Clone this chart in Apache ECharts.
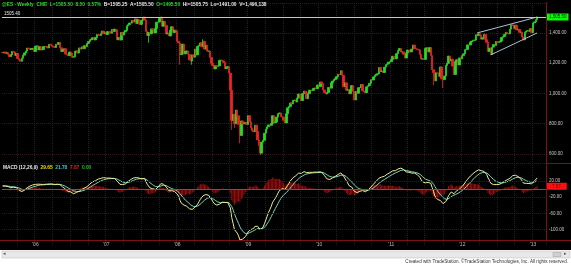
<!DOCTYPE html>
<html><head><meta charset="utf-8">
<script src="https://cdn.jsdelivr.net/npm/echarts@6/dist/echarts.min.js"></script>
<style>html,body{margin:0;padding:0;background:#fff}#c{width:571px;height:267px}</style>
</head><body><div id="c"></div>
<script>
// ---- data (weekly @ES) ----
const firstWeek = '2005-07-22';
const padWeeks = 6;
const closes = [
1269,1274,1265,1270,1258,1243,1255,1278,1273,1251,
1264,1231,1222,1213,1233,1253,1268,1280,1300,1296,
1290,1297,1298,1277,1313,1315,1288,1309,1288,1290,
1310,1310,1308,1301,1325,1320,1312,1311,1304,1325,
1324,1337,1302,1277,1289,1296,1260,1257,1250,1274,
1268,1240,1242,1279,1280,1267,1301,1294,1308,1296,
1316,1309,1330,1343,1355,1360,1368,1354,1370,1390,
1388,1383,1395,1413,1395,1401,1390,1409,1408,1398,
1423,1410,1425,1420,1355,1369,1353,1403,1386,1407,
1416,1447,1455,1466,1465,1482,1473,1493,1463,1488,
1458,1457,1483,1505,1485,1410,1383,1403,1394,1427,
1422,1400,1430,1471,1472,1502,1505,1444,1477,1450,
1394,1398,1380,1419,1441,1403,1419,1413,1345,1334,
1257,1262,1326,1262,1278,1281,1258,1221,1214,1255,
1240,1293,1255,1312,1319,1334,1309,1345,1293,1319,
1280,1280,1238,1199,1183,1162,1183,1179,1182,1219,
1220,1215,1205,1164,1174,1177,1135,1021,821,862,
799,890,852,795,722,818,798,801,809,795,
853,812,772,754,747,790,748,692,657,605,
678,690,737,765,779,792,789,801,853,806,
811,844,865,871,846,844,822,805,866,905,
914,937,931,953,956,943,969,996,972,953,
999,1015,1007,965,998,1022,1020,1020,1034,1036,
1032,1056,1045,1075,1066,1023,1005,997,1006,1040,
1035,1071,1082,1092,1099,1111,1126,1125,1150,1120,
1044,1070,1022,1023,998,1026,1052,1011,957,1013,
1001,1038,1039,1059,1017,1010,1005,1044,1051,1067,
1091,1089,1110,1120,1128,1129,1172,1146,1147,1138,
1174,1190,1195,1207,1210,1224,1246,1236,1229,1263,
1283,1297,1274,1275,1259,1234,1268,1287,1284,1275,
1293,1320,1296,1295,1290,1288,1257,1228,1228,1225,
1297,1302,1274,1303,1250,1157,1138,1083,1136,1133,
1113,1175,1096,1091,1115,1184,1199,1247,1216,1227,
1181,1125,1211,1223,1188,1235,1229,1250,1262,1289,
1291,1321,1320,1340,1346,1351,1353,1388,1382,1394,
1385,1359,1368,1391,1356,1338,1278,1300,1258,1306,
1324,1317,1344,1338,1340,1347,1370,1376,1391,1404,
1397,1394,1425,1454,1449,1430,1451,1420,1424,1404,
1406,1373,1354,1404,1412,1415,1410,1428,1401,1466,
1473,1488,1505.5
];
const firstOpen = 1270;
const wickLows = [[107,1335],[130,1190],[139,1190],[168,760],[170,772],[174,670],[189,592],[316,1055],[323,1036]];
const wickHighs = [[41,1340],[147,1358]];
const macdSeed = [1262, 1254, 8];          // ema12, ema26, signal before first bar
const upperTrend = [[348, 1400], [392, 1505]];
const lowerTrend = [[358, 1255], [392, 1400]];
const refLevel = 1505.40;
const refLabel = '1505.40';
const lastLabel = '1,505.50';
const histLabel = '7.87';
const priceLabelVals = [600, 800, 1000, 1200, 1400];
const macdLabelVals = [20, -20, -60, -100];
const headerParts = [
  ['@ES - Weekly  CME  L=1505.50  8.50  0.57%', 'g'],
  ['B=1505.25  A=1505.50', 'w'],
  ['O=1495.50', 'g'],
  ['Hi=1505.75  Lo=1491.00  V=1,496,138', 'w']
];
const macdParts = [['MACD (12,26,9)', 'w'], ['29.65', 'y'], ['21.78', 'c'], ['7.87', 'r'], ['0.00', 'g']];
const credit = 'Created with TradeStation. \u00A9TradeStation Technologies, Inc. All rights reserved.';

// ---- build ----
const cats = [];
const d0 = new Date(firstWeek + 'T00:00:00Z');
for (let i = 0; i < closes.length + padWeeks; i++) {
  const d = new Date(d0.getTime() + i * 7 * 86400000);
  cats.push(d.toISOString().slice(0, 10));
}
const yearStart = cats.map((c, i) => i > 0 && c.slice(0, 4) !== cats[i - 1].slice(0, 4));
const qStart = cats.map((c, i) => {
  if (i === 0) return false;
  const m = +c.slice(5, 7), pm = +cats[i - 1].slice(5, 7);
  return m !== pm && (m === 1 || m === 4 || m === 7 || m === 10);
});
const lowMap = Object.fromEntries(wickLows), highMap = Object.fromEntries(wickHighs);
const candles = closes.map((c, i) => {
  const o = i === 0 ? firstOpen : closes[i - 1];
  let lo = Math.min(o, c), hi = Math.max(o, c);
  if (lowMap[i] !== undefined) lo = Math.min(lo, lowMap[i]);
  if (highMap[i] !== undefined) hi = Math.max(hi, highMap[i]);
  return [o, c, lo, hi];
});
let e12 = macdSeed[0], e26 = macdSeed[1], sg = macdSeed[2];
const macd = [], signal = [], hist = [];
closes.forEach(c => {
  e12 += (2 / 13) * (c - e12);
  e26 += (2 / 27) * (c - e26);
  const m = e12 - e26;
  sg += (2 / 10) * (m - sg);
  macd.push(+m.toFixed(2)); signal.push(+sg.toFixed(2)); hist.push(+(m - sg).toFixed(2));
});

const FF = 'Liberation Sans, Arial, sans-serif';
const gridCol = '#3a1616';
const frameCol = '#7d1212';
const chart = echarts.init(document.getElementById('c'), null, {renderer: 'canvas', width: 571, height: 267});
const xBase = {
  type: 'category', data: cats, boundaryGap: true,
  axisLine: {show: false}, axisTick: {show: false},
  splitLine: {show: true, interval: (i) => qStart[i], lineStyle: {color: gridCol, type: 'dotted', width: 1}}
};
chart.setOption({
  backgroundColor: '#000',
  animation: false,
  title: [
    {left: 2, top: 2, padding: 0, text: headerParts.map(p => '{' + p[1] + '|' + p[0] + '}').join('  '),
     textStyle: {fontSize: 4.8, fontFamily: FF, rich: {g: {color: '#22dd22', fontSize: 4.8, fontFamily: FF}, w: {color: '#e8e8e8', fontSize: 4.8, fontFamily: FF}}}},
    {left: 3, top: 165, padding: 0, text: macdParts.map(p => '{' + p[1] + '|' + p[0] + '}').join('  '),
     textStyle: {fontSize: 4.8, fontFamily: FF, rich: {
       w: {color: '#e8e8e8', fontSize: 4.8, fontFamily: FF}, y: {color: '#e8e000', fontSize: 4.8, fontFamily: FF},
       c: {color: '#40c8c8', fontSize: 4.8, fontFamily: FF}, r: {color: '#e02020', fontSize: 4.8, fontFamily: FF},
       g: {color: '#20c020', fontSize: 4.8, fontFamily: FF}}}}
  ],
  grid: [
    {left: 2, right: 25, top: 3, height: 160},
    {left: 2, right: 25, top: 165, height: 80.5}
  ],
  xAxis: [
    Object.assign({gridIndex: 0, axisLabel: {show: false}}, xBase),
    Object.assign({gridIndex: 1, axisLabel: {show: true, interval: (i) => yearStart[i], margin: -3,
      formatter: (v) => "'" + v.slice(2, 4), color: '#b8b8b8', fontSize: 5, fontFamily: FF}}, xBase)
  ],
  yAxis: [
    {gridIndex: 0, type: 'value', position: 'right', min: 540, max: 1598, splitNumber: 5,
     axisLine: {show: false}, axisTick: {show: false},
     axisLabel: {color: '#c8c8c8', fontSize: 4.5, fontFamily: FF, margin: 3,
       formatter: (v) => priceLabelVals.includes(v) ? v.toLocaleString('en-US', {minimumFractionDigits: 2, maximumFractionDigits: 2}) : ''},
     splitLine: {show: true, lineStyle: {color: gridCol, type: 'dotted'}}},
    {gridIndex: 1, type: 'value', position: 'right', min: -140, max: 60, interval: 20,
     axisLine: {show: false}, axisTick: {show: false}, splitLine: {show: false},
     axisLabel: {color: '#c8c8c8', fontSize: 4.5, fontFamily: FF, margin: 3,
       formatter: (v) => macdLabelVals.includes(v) ? v.toFixed(2) : ''}}
  ],
  series: [
    {type: 'candlestick', xAxisIndex: 0, yAxisIndex: 0, data: candles, barWidth: 2,
     itemStyle: {color: '#22dd22', color0: '#ee2222', borderColor: '#22dd22', borderColor0: '#ee2222', borderWidth: 0.8},
     markLine: {silent: true, symbol: 'none', animation: false,
       data: [
         {yAxis: refLevel, lineStyle: {color: '#c4c4e0', width: 1, type: 'solid'},
          label: {show: true, position: 'insideStartTop', distance: [2, 1], formatter: refLabel, color: '#e8e8e8', fontSize: 4.5, fontFamily: FF}},
         {yAxis: closes[closes.length - 1], lineStyle: {color: 'rgba(0,0,0,0)', width: 0},
          label: {show: true, position: 'end', distance: 1, formatter: lastLabel, color: '#000', backgroundColor: '#00ff00',
            padding: [1, 2, 1, 2], fontSize: 4.5, fontFamily: FF}},
         [{coord: upperTrend[0]}, {coord: upperTrend[1]}],
         [{coord: lowerTrend[0]}, {coord: lowerTrend[1]}]
       ],
       lineStyle: {color: '#a8c4d8', width: 1, type: 'solid'},
       label: {show: false}}},
    {type: 'bar', xAxisIndex: 1, yAxisIndex: 1, data: hist, barWidth: 1, itemStyle: {color: '#9c1010'},
     markLine: {silent: true, symbol: 'none', animation: false, label: {show: false},
       data: macdLabelVals.map(v => ({yAxis: v, lineStyle: {color: gridCol, type: 'dotted', width: 1}}))
         .concat([{yAxis: 0, lineStyle: {color: '#c03818', type: 'solid', width: 1}},
                  {yAxis: hist[hist.length - 1], lineStyle: {color: 'rgba(0,0,0,0)', width: 0},
                   label: {show: true, position: 'end', distance: 0, formatter: histLabel, color: '#700000', backgroundColor: '#ff1010',
                     padding: [1, 6, 1, 6], fontSize: 4.5, fontFamily: FF}}])}},
    {type: 'line', xAxisIndex: 1, yAxisIndex: 1, data: signal, symbol: 'none', lineStyle: {color: '#70d8c0', width: 1}},
    {type: 'line', xAxisIndex: 1, yAxisIndex: 1, data: macd, symbol: 'none', lineStyle: {color: '#eeee90', width: 1}}
  ],
  graphic: [
    {type: 'rect', shape: {x: 0, y: 250, width: 571, height: 17}, style: {fill: '#fff'}, z: 100},
    {type: 'rect', shape: {x: 2, y: 251, width: 568, height: 7}, style: {fill: '#e8e8e8', stroke: '#b8b8b8', lineWidth: 0.5}, z: 101},
    {type: 'text', x: 3, y: 251.5, style: {text: '\u25C2', fill: '#555', fontSize: 5, fontFamily: FF}, z: 102},
    {type: 'text', x: 564, y: 251.5, style: {text: '\u25B8', fill: '#555', fontSize: 5, fontFamily: FF}, z: 102},
    {type: 'rect', shape: {x: 553, y: 252.5, width: 8, height: 4}, style: {fill: '#d0d0d0', stroke: '#a0a0a0', lineWidth: 0.5}, z: 102},
    {type: 'text', right: 3, y: 259.5, style: {text: credit, fill: '#333', fontSize: 4.6, fontFamily: FF}, z: 102},
    {type: 'line', shape: {x1: 546.5, y1: 2, x2: 546.5, y2: 240.5}, style: {stroke: frameCol, lineWidth: 1}, z: 50},
    {type: 'line', shape: {x1: 0, y1: 240.5, x2: 571, y2: 240.5}, style: {stroke: frameCol, lineWidth: 1}, z: 50},
    {type: 'line', shape: {x1: 546.5, y1: 163.5, x2: 571, y2: 163.5}, style: {stroke: frameCol, lineWidth: 1}, z: 50}
  ]
});
</script></body></html>
